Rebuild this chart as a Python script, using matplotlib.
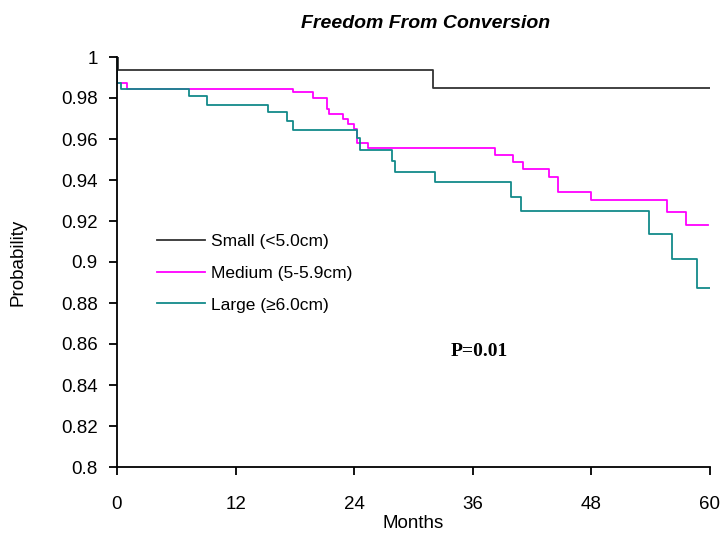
import matplotlib
matplotlib.use("Agg")
import matplotlib.pyplot as plt

plt.rcParams['font.family'] = ['Liberation Sans', 'DejaVu Sans']

# Kaplan-Meier steps (months, probability)
small_t = [0, 0.1, 32.0, 60]
small_s = [1.0, 0.9937, 0.9849, 0.9849]

medium_t = [0, 0.05, 1.0, 17.8, 19.8, 21.2, 21.5, 22.9, 23.4, 24.0, 24.3, 25.4,
            38.2, 40.1, 41.1, 43.7, 44.6, 48.0, 55.6, 57.6, 59.8]
medium_s = [1.0, 0.9873, 0.9844, 0.9831, 0.9798, 0.9746, 0.972, 0.9696, 0.9672, 0.9649, 0.958, 0.9556,
            0.9523, 0.9488, 0.9452, 0.9416, 0.934, 0.9302, 0.9242, 0.918, 0.918]

large_t = [0, 0.05, 0.4, 7.3, 9.1, 15.3, 17.2, 17.8, 24.25, 24.6, 27.8, 28.1,
           32.2, 39.9, 40.9, 53.8, 56.2, 58.7, 60]
large_s = [1.0, 0.9873, 0.9844, 0.981, 0.9766, 0.973, 0.9689, 0.9644, 0.9605, 0.9546, 0.9494, 0.944,
           0.939, 0.9319, 0.925, 0.9137, 0.9016, 0.8875, 0.8875]

labels = ["Small (<5.0cm)", "Medium (5-5.9cm)", "Large (\u22656.0cm)"]
colors = ["#333333", "#ff00ff", "#138a8a"]

x_ticks = [0, 12, 24, 36, 48, 60]
y_ticks = [0.8, 0.82, 0.84, 0.86, 0.88, 0.9, 0.92, 0.94, 0.96, 0.98, 1.0]
y_tick_labels = ["0.8", "0.82", "0.84", "0.86", "0.88", "0.9", "0.92", "0.94", "0.96", "0.98", "1"]

fig = plt.figure(figsize=(7.24, 5.38), dpi=100)
ax = fig.add_axes([117 / 724, 1 - 467 / 538, 593 / 724, 410 / 538])

series = [(small_t, small_s), (medium_t, medium_s), (large_t, large_s)]
for i, (t, s) in enumerate(series):
    ax.step(t, s, where="post", color=colors[i], lw=1.3, label=labels[i])

ax.set_xlim(0, 60)
ax.set_ylim(0.8, 1.0)
ax.set_xticks(x_ticks)
ax.set_yticks(y_ticks)
ax.set_yticklabels(y_tick_labels)
for side in ["top", "right"]:
    ax.spines[side].set_visible(False)
for side in ["left", "bottom"]:
    ax.spines[side].set_linewidth(1.3)
ax.tick_params(direction="out", length=6, width=1.3, labelsize=13.5)
ax.tick_params(axis="y", pad=8)
ax.tick_params(axis="x", pad=15)

ax.set_xlabel("Months", fontsize=13.5, labelpad=1)
ax.set_ylabel("Probability", fontsize=13.5)
ax.yaxis.set_label_coords(-0.152, 0.5)
ax.set_title("Freedom From Conversion", fontsize=14, fontweight="bold",
             fontstyle="italic", x=0.52, pad=21)

ax.legend(loc="upper left", bbox_to_anchor=(0.067, 0.568), frameon=False,
          fontsize=12.5, handlelength=2.8, handletextpad=0.35, labelspacing=0.95,
          borderpad=0, borderaxespad=0)

ax.text(0.563, 0.27, "P=0.01", transform=ax.transAxes, fontsize=14,
        fontweight="bold", family="Liberation Serif")

fig.savefig("out.png", dpi=100)
